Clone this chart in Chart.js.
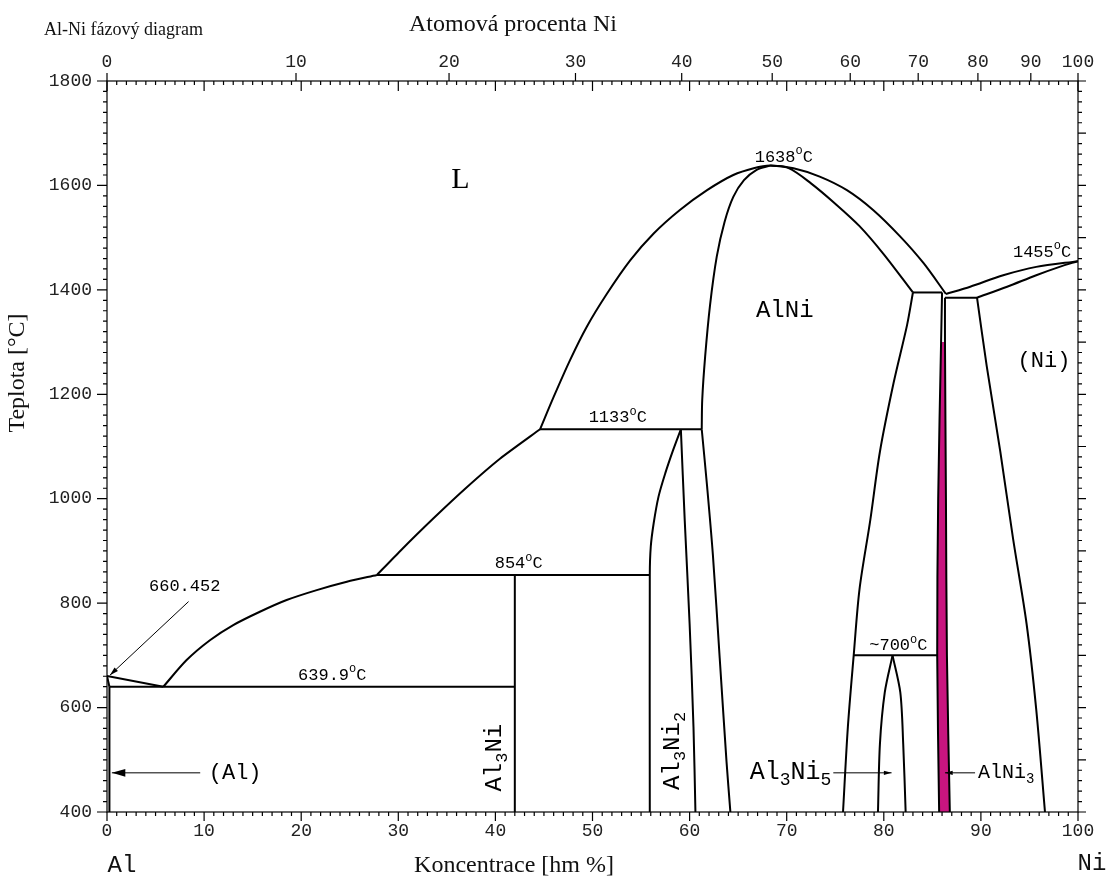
<!DOCTYPE html>
<html>
<head>
<meta charset="utf-8">
<title>Al-Ni fázový diagram</title>
<script src="https://cdn.jsdelivr.net/npm/chart.js@4.4.1/dist/chart.umd.min.js"></script>
<style>
  html, body { margin: 0; padding: 0; background: #fff; }
  #wrap { width: 1109px; height: 877px; position: relative; }
</style>
</head>
<body>
<div id="wrap"><canvas id="phase"></canvas></div>
<script>
// ----- Data: phase boundaries, [wt% Ni, °C] -----
const alLiquidus   = [[0, 660.45], [5.8, 639.9]];
const alSolidus    = [[0, 660.45], [0.25, 639.9]];
const alSolvus     = [[0.25, 639.9], [0.25, 400]];
const liqAl3Ni     = [[5.8, 639.9], [8.2, 691], [10.6, 729], [13.0, 758], [15.8, 784], [18.5, 806], [21.6, 825], [24.7, 841], [27.8, 854]];
const liqAl3Ni2    = [[27.8, 854], [30.2, 900], [33.6, 962], [37.0, 1021], [40.5, 1077], [44.6, 1133]];
const liqAlNi      = [[44.6, 1133], [46.0, 1195], [47.7, 1266], [49.4, 1329], [51.5, 1393], [53.9, 1457], [56.3, 1508], [59.0, 1553], [61.8, 1591], [64.5, 1620], [66.6, 1633], [68.3, 1638], [70.7, 1633], [73.4, 1617], [76.2, 1591], [78.9, 1553], [81.7, 1502], [84.1, 1451], [86.4, 1392]];
const solAlNiLeft  = [[68.3, 1638], [66.9, 1630], [65.6, 1610], [64.5, 1578], [63.6, 1530], [62.8, 1464], [62.1, 1370], [61.6, 1272], [61.3, 1189], [61.25, 1133]];
const alNiLeft     = [[61.25, 1133], [61.8, 1024], [62.4, 892], [63.1, 695], [63.8, 497], [64.2, 400]];
const solAlNiRight = [[68.3, 1638], [70.2, 1633], [72.5, 1604], [75.0, 1565], [77.5, 1522], [80.0, 1468], [83.0, 1395]];
const alNiRight    = [[83.0, 1395], [82.4, 1333], [81.0, 1221], [79.6, 1090], [78.6, 958], [77.5, 827], [76.9, 700], [76.3, 563], [75.8, 400]];
const al3Ni        = [[42.0, 854], [42.0, 400]];
const al3Ni2Left   = [[59.1, 1133], [58.3, 1093], [57.5, 1049], [56.8, 1004], [56.3, 953], [56.0, 908], [55.9, 854], [55.9, 400]];
const al3Ni2Right  = [[59.1, 1133], [59.5, 958], [60.0, 761], [60.4, 563], [60.6, 400]];
const al3Ni5Left   = [[80.9, 700], [80.1, 629], [79.6, 530], [79.4, 400]];
const al3Ni5Right  = [[80.9, 700], [81.7, 629], [82.0, 530], [82.25, 400]];
const alNi3Left    = [[86.0, 1395], [85.9, 1300], [85.6, 1000], [85.5, 700], [85.7, 400]];
const alNi3Right   = [[86.3, 1385], [86.3, 1300], [86.4, 1000], [86.5, 700], [86.8, 400]];
const liqNi        = [[86.4, 1392], [88.9, 1406], [92.3, 1428], [95.7, 1444], [100, 1455]];
const solNi        = [[89.6, 1385], [92.7, 1406], [95.7, 1428], [98.1, 1444], [100, 1455]];
const solvNi       = [[89.6, 1385], [90.6, 1254], [92.0, 1090], [93.3, 925], [94.7, 761], [95.7, 596], [96.6, 400]];

// invariant (horizontal) lines
const inv640  = [[0.25, 639.9], [42.0, 639.9]];
const inv854  = [[27.8, 854], [55.9, 854]];
const inv1133 = [[44.6, 1133], [61.25, 1133]];
const inv1395 = [[83.0, 1395], [86.0, 1395]];
const inv1385 = [[86.3, 1385], [89.6, 1385]];
const inv700  = [[76.9, 700], [85.5, 700]];

// ----- Axis ticks -----
const wtTicks   = [0, 10, 20, 30, 40, 50, 60, 70, 80, 90, 100];
const atTicks   = [0, 10, 20, 30, 40, 50, 60, 70, 80, 90, 100];   // atomic % Ni (top axis)
const tempTicks = [400, 600, 800, 1000, 1200, 1400, 1600, 1800];

const M_NI = 58.69, M_AL = 26.98;
const atToWt = a => 100 * a * M_NI / (a * M_NI + (100 - a) * M_AL);

// ----- Text annotations: [markup, wt%, °C, size, font, align, rotate] -----
// markup: _x = subscript char, ^x = superscript char
const MONO  = '"Liberation Mono", "DejaVu Sans Mono", monospace';
const SERIF = '"Liberation Serif", "DejaVu Serif", serif';
const phaseLabels = [
  ['L',        36.4, 1610, 30, SERIF, 'center', 0],
  ['AlNi',     69.8, 1361, 24, MONO,  'center', 0],
  ['(Ni)',     96.5, 1264, 22, MONO,  'center', 0],
  ['(Al)',     13.2,  475, 22, MONO,  'center', 0],
  ['Al_3Ni_5', 74.6,  475, 25, MONO,  'right',  0],
  ['AlNi_3',   89.7,  475, 20, MONO,  'left',   0],
  ['Al_3Ni',   39.95, 504, 24, MONO,  'center', 1],
  ['Al_3Ni_2', 58.3,  517, 24, MONO,  'center', 1],
  ['1638^oC',  69.7, 1654, 17, MONO,  'center', 0],
  ['1455^oC',  96.3, 1472, 17, MONO,  'center', 0],
  ['1133^oC',  52.6, 1155, 17, MONO,  'center', 0],
  ['854^oC',   42.4,  875, 17, MONO,  'center', 0],
  ['639.9^oC', 23.2,  662, 17, MONO,  'center', 0],
  ['~700^oC',  81.5,  718, 17, MONO,  'center', 0],
  ['660.452',   8.0,  831, 17, MONO,  'center', 0]
];
// arrows: [fromWt, fromT, toWt, toT, head length]
const arrows = [
  [8.4, 803, 0.3, 662, 9],
  [9.6, 475, 0.5, 475, 14],
  [74.8, 475, 80.8, 475, 8],
  [89.4, 475, 86.3, 475, 8]
];

// ----- helpers -----
const toXY = pts => pts.map(([x, y]) => ({ x, y }));

function boundary(pts, tension) {
  return {
    data: toXY(pts),
    showLine: true,
    borderColor: '#000',
    borderWidth: 2,
    pointRadius: 0,
    tension: tension || 0,
    fill: false,
    order: 0
  };
}

function parseRich(s) {
  const out = [];
  let buf = '';
  for (let i = 0; i < s.length; i++) {
    const c = s[i];
    if ((c === '_' || c === '^') && i + 1 < s.length) {
      if (buf) out.push([buf, 0]);
      buf = '';
      out.push([s[i + 1], c === '_' ? 1 : 2]);
      i++;
    } else {
      buf += c;
    }
  }
  if (buf) out.push([buf, 0]);
  return out;
}

function drawRich(ctx, markup, x, y, size, family, align) {
  const parts = parseRich(markup);
  const sizes = parts.map(([, k]) => (k ? Math.round(size * 0.72) : size));
  let w = 0;
  parts.forEach(([t], i) => { ctx.font = `${sizes[i]}px ${family}`; w += ctx.measureText(t).width; });
  let cx = align === 'left' ? x : align === 'right' ? x - w : x - w / 2;
  ctx.textAlign = 'left';
  ctx.textBaseline = 'middle';
  parts.forEach(([t, k], i) => {
    ctx.font = `${sizes[i]}px ${family}`;
    const dy = k === 1 ? size * 0.3 : k === 2 ? -size * 0.35 : 0;
    ctx.fillText(t, cx, y + dy);
    cx += ctx.measureText(t).width;
  });
}

// AlNi3 band (filled below ~1300 °C)
const alNi3Band = alNi3Left.filter(p => p[1] <= 1300)
  .concat(alNi3Right.filter(p => p[1] <= 1300).reverse());

// ----- Plugin: frame, tick marks, titles, annotations -----
const diagramPlugin = {
  id: 'diagram',
  afterDraw(chart) {
    const { ctx, chartArea: a, scales: { x, y } } = chart;
    ctx.save();
    ctx.strokeStyle = '#000';
    ctx.lineWidth = 1.2;
    ctx.strokeRect(a.left, a.top, a.right - a.left, a.bottom - a.top);

    ctx.beginPath();
    for (let v = 0; v <= 100; v++) {
      const px = x.getPixelForValue(v);
      const major = v % 10 === 0;
      ctx.moveTo(px, a.bottom); ctx.lineTo(px, a.bottom + (major ? 9 : 4));
      ctx.moveTo(px, a.top);    ctx.lineTo(px, a.top + (major ? 10 : 4));
    }
    atTicks.forEach(at => {
      const px = x.getPixelForValue(atToWt(at));
      ctx.moveTo(px, a.top); ctx.lineTo(px, a.top - 8);
    });
    for (let t = 400; t <= 1800; t += 20) {
      const py = y.getPixelForValue(t);
      ctx.moveTo(a.left, py);  ctx.lineTo(a.left - (t % 200 === 0 ? 10 : 4), py);
      ctx.moveTo(a.right, py); ctx.lineTo(a.right + (t % 100 === 0 ? 8 : 4), py);
    }
    ctx.stroke();

    // titles
    ctx.fillStyle = '#111';
    drawRich(ctx, 'Al-Ni fázový diagram', 44, 30, 18, SERIF, 'left');
    drawRich(ctx, 'Atomová procenta Ni', 513, 25, 24, SERIF, 'center');
    drawRich(ctx, 'Koncentrace [hm %]', 514, 866, 24, SERIF, 'center');
    drawRich(ctx, 'Al', 122, 866, 24, MONO, 'center');
    drawRich(ctx, 'Ni', 1092, 864, 24, MONO, 'center');
    ctx.save();
    ctx.translate(18, 373);
    ctx.rotate(-Math.PI / 2);
    drawRich(ctx, 'Teplota [°C]', 0, 0, 24, SERIF, 'center');
    ctx.restore();

    // annotations inside the plot
    ctx.fillStyle = '#000';
    phaseLabels.forEach(([txt, wx, wy, size, fam, align, rot]) => {
      const px = x.getPixelForValue(wx), py = y.getPixelForValue(wy);
      if (rot) {
        ctx.save();
        ctx.translate(px, py);
        ctx.rotate(-Math.PI / 2);
        drawRich(ctx, txt, 0, 0, size, fam, align);
        ctx.restore();
      } else {
        drawRich(ctx, txt, px, py, size, fam, align);
      }
    });

    // arrows
    ctx.lineWidth = 1;
    arrows.forEach(([x0, y0, x1, y1, hl]) => {
      const ax = x.getPixelForValue(x0), ay = y.getPixelForValue(y0);
      const bx = x.getPixelForValue(x1), by = y.getPixelForValue(y1);
      const ang = Math.atan2(by - ay, bx - ax);
      ctx.beginPath();
      ctx.moveTo(ax, ay); ctx.lineTo(bx, by);
      ctx.stroke();
      ctx.beginPath();
      ctx.moveTo(bx, by);
      ctx.lineTo(bx - hl * Math.cos(ang - 0.28), by - hl * Math.sin(ang - 0.28));
      ctx.lineTo(bx - hl * Math.cos(ang + 0.28), by - hl * Math.sin(ang + 0.28));
      ctx.closePath();
      ctx.fill();
    });
    ctx.restore();
  }
};

Chart.defaults.font.family = MONO;
Chart.defaults.color = '#222';

new Chart(document.getElementById('phase'), {
  type: 'scatter',
  data: {
    datasets: [
      {
        data: toXY(alNi3Band),
        showLine: true,
        fill: 'shape',
        backgroundColor: '#C8157F',
        borderColor: '#C8157F',
        borderWidth: 0,
        pointRadius: 0,
        tension: 0,
        order: 10
      },
      boundary(alLiquidus),
      boundary(alSolidus),
      boundary(alSolvus),
      boundary(liqAl3Ni, 0.3),
      boundary(liqAl3Ni2, 0.2),
      boundary(liqAlNi, 0.3),
      boundary(solAlNiLeft, 0.3),
      boundary(alNiLeft, 0.3),
      boundary(solAlNiRight, 0.3),
      boundary(alNiRight, 0.3),
      boundary(al3Ni),
      boundary(al3Ni2Left, 0.3),
      boundary(al3Ni2Right, 0.3),
      boundary(al3Ni5Left, 0.3),
      boundary(al3Ni5Right, 0.3),
      boundary(alNi3Left, 0.3),
      boundary(alNi3Right, 0.3),
      boundary(liqNi, 0.3),
      boundary(solNi, 0.3),
      boundary(solvNi, 0.3),
      boundary(inv640),
      boundary(inv854),
      boundary(inv1133),
      boundary(inv1395),
      boundary(inv1385),
      boundary(inv700)
    ]
  },
  options: {
    responsive: true,
    maintainAspectRatio: false,
    animation: false,
    layout: { padding: 0 },
    plugins: { legend: { display: false }, tooltip: { enabled: false } },
    scales: {
      x: {
        type: 'linear', position: 'bottom', min: 0, max: 100,
        afterBuildTicks: s => { s.ticks = wtTicks.map(v => ({ value: v })); },
        afterFit: s => { s.height = 65; },
        grid: { display: false, drawTicks: false },
        border: { display: false },
        ticks: { autoSkip: false, maxRotation: 0, padding: 8, font: { size: 18 },
                 callback: v => String(v) }
      },
      xTop: {
        type: 'linear', position: 'top', min: 0, max: 100,
        afterBuildTicks: s => { s.ticks = atTicks.map(a => ({ value: atToWt(a) })); },
        afterFit: s => { s.height = 81; },
        grid: { display: false, drawTicks: false },
        border: { display: false },
        ticks: { autoSkip: false, maxRotation: 0, padding: 8, font: { size: 18 },
                 callback: (v, i) => String(atTicks[i]) }
      },
      y: {
        type: 'linear', position: 'left', min: 400, max: 1800,
        afterBuildTicks: s => { s.ticks = tempTicks.map(v => ({ value: v })); },
        afterFit: s => { s.width = 107; },
        grid: { display: false, drawTicks: false },
        border: { display: false },
        ticks: { padding: 15, font: { size: 18 }, callback: v => String(v) }
      },
      yRight: {
        type: 'linear', position: 'right', min: 400, max: 1800,
        afterFit: s => { s.width = 31; },
        grid: { display: false, drawTicks: false },
        border: { display: false },
        ticks: { display: false }
      }
    }
  },
  plugins: [diagramPlugin]
});
</script>
</body>
</html>
